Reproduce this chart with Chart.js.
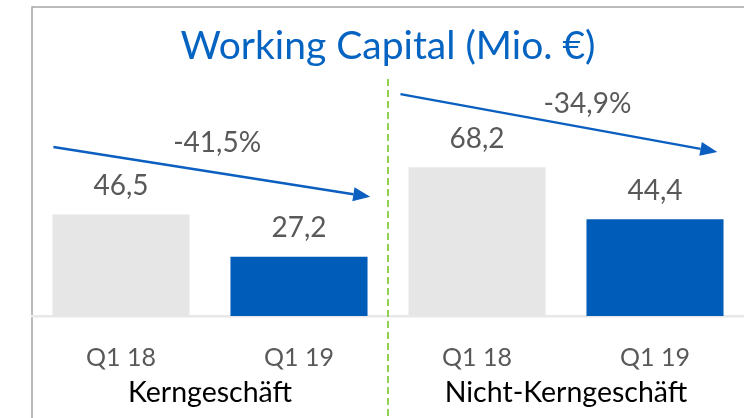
<!DOCTYPE html>
<html>
<head>
<meta charset="utf-8">
<script src="https://cdn.jsdelivr.net/npm/chart.js@4.4.1/dist/chart.umd.min.js"></script>
<style>
    html, body { margin: 0; padding: 0; background: #ffffff; }
    #wrap { width: 744px; height: 418px; }
</style>
</head>
<body>
<div id="wrap"><canvas id="wcChart" width="744" height="418"></canvas></div>
<script>
// values (Mio. EUR)
var quarters = ['Q1 18', 'Q1 19', 'Q1 18', 'Q1 19'];
var wcValues = [46.5, 27.2, 68.2, 44.4];
var wcColors = ['#e6e6e6', '#005cb9', '#e6e6e6', '#005cb9'];
var groupNames = ['Kerngeschäft', 'Nicht-Kerngeschäft'];
var groupSpans = [[0, 1], [2, 3]];
var changeTexts = ['-41,5%', '-34,9%'];
// label anchors: x as category index, y in value units
var changeLabelX = [0.54, 2.62];
var changeLabelY = [75, 93];
// arrows: [category index, value]
var arrowFrom = [[-0.38, 77.5], [1.57, 101.7]];
var arrowTo = [[1.40, 54.6], [3.35, 75.2]];

var fontName = 'Lato, Carlito, Calibri, sans-serif';

function fmt(v) {
    return v.toFixed(1).replace('.', ',');
}

var extrasPlugin = {
    id: 'extras',
    beforeDraw: function (chart) {
        var ctx = chart.ctx;
        var area = chart.chartArea;
        ctx.save();
        // frame
        ctx.strokeStyle = '#a6a6a6';
        ctx.lineWidth = 1.5;
        ctx.beginPath();
        ctx.moveTo(area.left, chart.height);
        ctx.lineTo(area.left, 7);
        ctx.lineTo(chart.width, 7);
        ctx.stroke();
        ctx.restore();
    },
    afterDraw: function (chart) {
        var ctx = chart.ctx;
        var x = chart.scales.x;
        var y = chart.scales.y;
        var meta = chart.getDatasetMeta(0);
        ctx.save();

        // value labels
        ctx.font = '28px ' + fontName;
        ctx.fillStyle = '#595959';
        ctx.textAlign = 'center';
        ctx.textBaseline = 'alphabetic';
        meta.data.forEach(function (bar, i) {
            ctx.fillText(fmt(wcValues[i]), bar.x, bar.y - 19.5);
        });

        // change labels
        changeTexts.forEach(function (t, i) {
            ctx.fillText(t, x.getPixelForValue(changeLabelX[i]), y.getPixelForValue(changeLabelY[i]));
        });

        // arrows
        ctx.strokeStyle = '#0a5fc0';
        ctx.fillStyle = '#0a5fc0';
        ctx.lineWidth = 2.5;
        arrowFrom.forEach(function (a, i) {
            var x1 = x.getPixelForValue(a[0]), y1 = y.getPixelForValue(a[1]);
            var x2 = x.getPixelForValue(arrowTo[i][0]), y2 = y.getPixelForValue(arrowTo[i][1]);
            var ang = Math.atan2(y2 - y1, x2 - x1);
            var headLen = 17, headW = 7;
            var bx = x2 - headLen * Math.cos(ang), by = y2 - headLen * Math.sin(ang);
            ctx.beginPath();
            ctx.moveTo(x1, y1);
            ctx.lineTo(bx, by);
            ctx.stroke();
            ctx.beginPath();
            ctx.moveTo(x2, y2);
            ctx.lineTo(bx + headW * Math.sin(ang), by - headW * Math.cos(ang));
            ctx.lineTo(bx - headW * Math.sin(ang), by + headW * Math.cos(ang));
            ctx.closePath();
            ctx.fill();
        });

        // separator
        var sepX = (x.getPixelForValue(1) + x.getPixelForValue(2)) / 2;
        ctx.strokeStyle = '#92d050';
        ctx.lineWidth = 2;
        ctx.setLineDash([7, 4]);
        ctx.beginPath();
        ctx.moveTo(sepX, 79);
        ctx.lineTo(sepX, chart.height);
        ctx.stroke();
        ctx.setLineDash([]);

        // group labels
        ctx.font = '28.5px ' + fontName;
        ctx.fillStyle = '#000000';
        groupNames.forEach(function (g, i) {
            var cx = (x.getPixelForValue(groupSpans[i][0]) + x.getPixelForValue(groupSpans[i][1])) / 2;
            ctx.fillText(g, cx, 402);
        });
        ctx.restore();
    }
};

var wcChart = new Chart(document.getElementById('wcChart'), {
    type: 'bar',
    data: {
        labels: quarters,
        datasets: [{
            label: 'Working Capital',
            data: wcValues,
            backgroundColor: wcColors,
            borderWidth: 0,
            barPercentage: 0.77,
            categoryPercentage: 1
        }]
    },
    options: {
        responsive: false,
        animation: false,
        layout: {padding: {left: 32, right: 0, top: 0, bottom: 18}},
        plugins: {
            legend: {display: false},
            tooltip: {enabled: false},
            title: {
                display: true,
                text: 'Working Capital (Mio. €)',
                color: '#0563c1',
                font: {family: fontName, size: 39, weight: 'normal'},
                padding: {top: 23, bottom: 6.2}
            }
        },
        scales: {
            x: {
                grid: {display: false, drawTicks: false},
                border: {display: true, color: '#e8e8e8', width: 2.5},
                ticks: {
                    color: '#595959',
                    font: {family: fontName, size: 25},
                    padding: 27
                }
            },
            y: {
                display: false,
                min: 0,
                max: 110
            }
        }
    },
    plugins: [extrasPlugin]
});
</script>
</body>
</html>
